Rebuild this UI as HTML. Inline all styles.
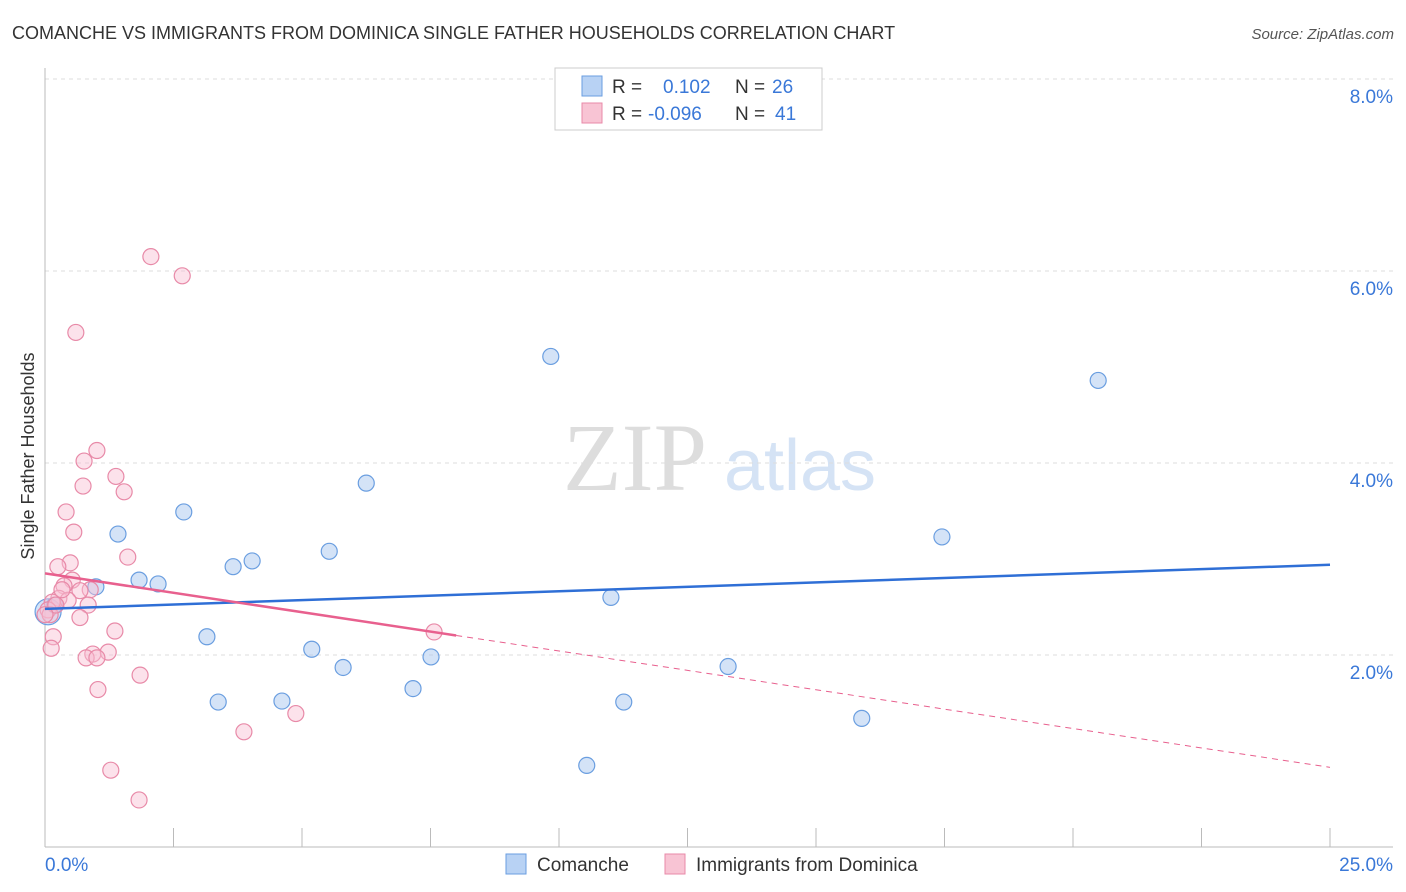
<!DOCTYPE html>
<html><head><meta charset="utf-8"><style>
body{margin:0;background:#fff;font-family:"Liberation Sans",sans-serif;}
svg{display:block}
</style></head><body>
<svg id="chart" width="1406" height="892">
<text x="12" y="39" font-size="18" fill="#333">COMANCHE VS IMMIGRANTS FROM DOMINICA SINGLE FATHER HOUSEHOLDS CORRELATION CHART</text>
<text x="1394" y="39" font-size="15" fill="#555" font-style="italic" text-anchor="end">Source: ZipAtlas.com</text>
<text x="34" y="456" font-size="18" fill="#333" text-anchor="middle" transform="rotate(-90 34 456)">Single Father Households</text>
<g><text x="635" y="490" font-size="96" fill="#ddd" font-family="Liberation Serif" text-anchor="middle">ZIP</text><text x="800" y="490" font-size="72" fill="#d5e3f5" text-anchor="middle">atlas</text></g>
<g id="grid"></g><g id="marks"></g>
<g>
<rect x="555" y="68" width="267" height="62" fill="#fff" stroke="#ccc"/>
<rect x="582" y="76" width="20" height="20" fill="#b8d2f4" stroke="#6a9ee0"/>
<rect x="582" y="103" width="20" height="20" fill="#f8c4d4" stroke="#e88aa8"/>
<text x="612" y="93" font-size="19" fill="#333">R = </text><text x="663" y="93" font-size="19" fill="#3a78d8">0.102</text>
<text x="735" y="93" font-size="19" fill="#333">N = </text><text x="772" y="93" font-size="19" fill="#3a78d8">26</text>
<text x="612" y="120" font-size="19" fill="#333">R = </text><text x="648" y="120" font-size="19" fill="#3a78d8">-0.096</text>
<text x="735" y="120" font-size="19" fill="#333">N = </text><text x="775" y="120" font-size="19" fill="#3a78d8">41</text>
</g>
<g>
<rect x="506" y="854" width="20" height="20" fill="#b8d2f4" stroke="#6a9ee0"/>
<text x="537" y="871" font-size="19" fill="#333">Comanche</text>
<rect x="665" y="854" width="20" height="20" fill="#f8c4d4" stroke="#e88aa8"/>
<text x="696" y="871" font-size="19" fill="#333">Immigrants from Dominica</text>
</g>
</svg>
<script>
const xTicks=[0,2.5,5,7.5,10,12.5,15,17.5,20,22.5,25];
const yTicks=[2,4,6,8];
const yTickLabels=["2.0%","4.0%","6.0%","8.0%"];
const xEndLabels=["0.0%","25.0%"];
const blueX=[9.84,20.49,6.25,2.70,1.42,17.45,5.53,4.03,3.66,1.83,2.20,0.99,11.01,3.15,5.19,7.51,5.80,13.29,7.16,3.37,4.61,11.26,15.89,10.54,0.06,0.19];
const blueY=[5.11,4.86,3.79,3.49,3.26,3.23,3.08,2.98,2.92,2.78,2.74,2.71,2.60,2.19,2.06,1.98,1.87,1.88,1.65,1.51,1.52,1.51,1.34,0.85,2.45,2.52];
const pinkX=[2.06,2.67,0.60,1.01,0.76,1.38,0.74,1.54,0.41,0.56,1.61,0.49,0.25,0.53,0.37,0.88,0.68,0.27,0.45,0.14,0.84,0.06,0.10,0.68,7.57,1.36,0.16,0.12,1.23,0.93,0.80,1.01,1.85,1.03,4.88,3.87,1.28,1.83,0.33,0.21,0.0];
const pinkY=[6.15,5.95,5.36,4.13,4.02,3.86,3.76,3.70,3.49,3.28,3.02,2.96,2.92,2.78,2.72,2.68,2.67,2.59,2.57,2.55,2.52,2.47,2.42,2.39,2.24,2.25,2.19,2.07,2.03,2.01,1.97,1.97,1.79,1.64,1.39,1.20,0.80,0.49,2.68,2.52,2.42];
const blueTrend=[2.48,2.94];
const pinkTrend=[2.85,0.83];
const pinkSolidEnd=8.0;
const X=v=>45+v/25*1285, Y=v=>847-v*96;
const NS="http://www.w3.org/2000/svg";
function mk(p,t,a){const e=document.createElementNS(NS,t);for(const k in a)e.setAttribute(k,a[k]);p.appendChild(e);return e;}
const g=document.getElementById('grid'), m=document.getElementById('marks');
yTicks.forEach((t,i)=>{
 const l=mk(g,'line',{x1:45,x2:1393,y1:Y(t),y2:Y(t),stroke:'#ddd','stroke-dasharray':'4,4'});
 
 
 const tx=mk(g,'text',{x:1393,y:Y(t)+24,'font-size':19,fill:'#3a78d8','text-anchor':'end'});
 tx.textContent=yTickLabels[i];
 
 
});
mk(g,'line',{x1:45,x2:1393,y1:79,y2:79,stroke:'#ddd','stroke-dasharray':'4,4'});
const ax=mk(g,'line',{x1:45,x2:1393,y1:847,y2:847,stroke:'#bbb'});


const ay=mk(g,'line',{x1:45,x2:45,y1:68,y2:847,stroke:'#bbb'});


xTicks.forEach(t=>{
 const l=mk(g,'line',{x1:X(t),x2:X(t),y1:828,y2:847,stroke:'#bbb'});
 
 
});
[[0,'start',45],[25,'end',1393]].forEach((d,i)=>{
 const tx=mk(g,'text',{x:d[2],y:871,'font-size':19,fill:'#3a78d8','text-anchor':d[1]});
 tx.textContent=xEndLabels[i];
 
 
});
blueX.forEach((x,i)=>{
 const c=mk(m,'circle',{cx:X(x),cy:Y(blueY[i]),r:i==24?13:8,fill:'rgba(170,200,240,0.5)',stroke:'#6a9ee0','stroke-width':1.2});
 
 
});
pinkX.forEach((x,i)=>{
 const c=mk(m,'circle',{cx:X(x),cy:Y(pinkY[i]),r:8,fill:'rgba(248,190,210,0.45)',stroke:'#e88aa8','stroke-width':1.2});
 
 
});
const bt=mk(m,'line',{x1:X(0),y1:Y(blueTrend[0]),x2:X(25),y2:Y(blueTrend[1]),stroke:'#2f6fd6','stroke-width':2.5});


const py=v=>pinkTrend[0]+(pinkTrend[1]-pinkTrend[0])*v/25;
const ps=mk(m,'line',{x1:X(0),y1:Y(py(0)),x2:X(pinkSolidEnd),y2:Y(py(pinkSolidEnd)),stroke:'#e8608e','stroke-width':2.5});


const pd=mk(m,'line',{x1:X(pinkSolidEnd),y1:Y(py(pinkSolidEnd)),x2:X(25),y2:Y(py(25)),stroke:'#e8608e','stroke-width':1,'stroke-dasharray':'6,5'});


</script>
</body></html>
